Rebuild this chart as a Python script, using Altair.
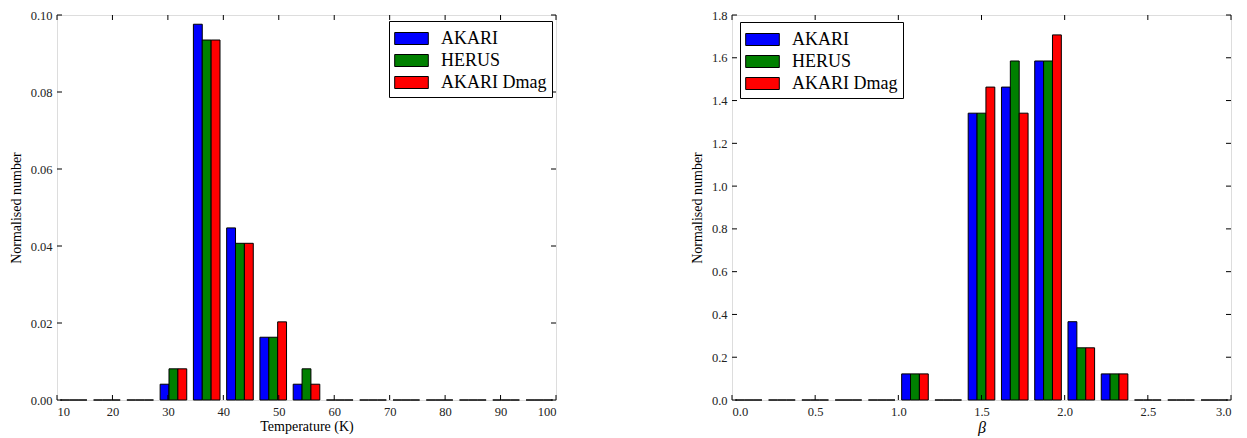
import altair as alt
import pandas as pd

series = ["AKARI", "HERUS", "AKARI Dmag"]
colors = ["#0000ff", "#008000", "#ff0000"]

# Temperature histogram (bin edges in K, normalised heights per bin)
temp_edges = [10, 16, 22, 28, 34, 40, 46, 52, 58, 64, 70, 76, 82, 88, 94, 100]
temp_akari = [0, 0, 0, 0.0041, 0.0976, 0.0447, 0.0163, 0.0041, 0, 0, 0, 0, 0, 0, 0]
temp_herus = [0, 0, 0, 0.0081, 0.0935, 0.0407, 0.0163, 0.0081, 0, 0, 0, 0, 0, 0, 0]
temp_dmag = [0, 0, 0, 0.0081, 0.0935, 0.0407, 0.0203, 0.0041, 0, 0, 0, 0, 0, 0, 0]

# Beta histogram
beta_edges = [0.0, 0.2, 0.4, 0.6, 0.8, 1.0, 1.2, 1.4, 1.6, 1.8, 2.0, 2.2, 2.4, 2.6, 2.8, 3.0]
beta_akari = [0, 0, 0, 0, 0, 0.122, 0, 1.341, 1.463, 1.585, 0.366, 0.122, 0, 0, 0]
beta_herus = [0, 0, 0, 0, 0, 0.122, 0, 1.341, 1.585, 1.585, 0.244, 0.122, 0, 0, 0]
beta_dmag = [0, 0, 0, 0, 0, 0.122, 0, 1.463, 1.341, 1.707, 0.244, 0.122, 0, 0, 0]

temp_xticks = [10, 20, 30, 40, 50, 60, 70, 80, 90, 100]
temp_yticks = [0.0, 0.02, 0.04, 0.06, 0.08, 0.10]
beta_xticks = [0.0, 0.5, 1.0, 1.5, 2.0, 2.5, 3.0]
beta_yticks = [0.0, 0.2, 0.4, 0.6, 0.8, 1.0, 1.2, 1.4, 1.6, 1.8]

FONT = "Liberation Serif"
W, H = 499, 385


def bars_df(edges, groups):
    rows = []
    n = len(groups)
    for s_i, (name, vals) in enumerate(groups):
        for b, v in enumerate(vals):
            lo, hi = edges[b], edges[b + 1]
            w = hi - lo
            x0 = lo + w * (0.1 + s_i * 0.8 / n)
            rows.append({"series": name, "x0": x0, "x1": x0 + w * 0.8 / n, "value": v})
    return pd.DataFrame(rows)


def axis(values, fmt, title, title_style="normal", title_size=14, title_pad=6):
    return alt.Axis(values=values, format=fmt, title=title,
                    domain=False, ticks=False, grid=False,
                    labelFont=FONT, labelFontSize=12.5, labelColor="#222222", labelPadding=5,
                    titleFont=FONT, titleFontSize=title_size, titleFontStyle=title_style,
                    titleFontWeight="normal", titleColor="black", titlePadding=title_pad)


def panel(df, xdom, ydom, xticks, yticks, xfmt, yfmt, xtitle, xtitle_style, xtitle_size, lx, ly):
    xs = alt.Scale(domain=xdom, nice=False, zero=False)
    ys = alt.Scale(domain=ydom, nice=False, zero=False)
    xaxis = axis(xticks, xfmt, xtitle, xtitle_style, xtitle_size, 2)
    yaxis = axis(yticks, yfmt, "Normalised number", "normal", 14, 7)
    bars = alt.Chart(df).mark_bar(stroke="black", strokeWidth=1, opacity=1).encode(
        x=alt.X("x0:Q", scale=xs, axis=xaxis),
        x2="x1:Q",
        y=alt.Y("value:Q", scale=ys, axis=yaxis),
        y2=alt.datum(0),
        color=alt.Color("series:N", scale=alt.Scale(domain=series, range=colors),
                        legend=alt.Legend(orient="none", legendX=lx, legendY=ly, title=None,
                                          fillColor="white", strokeColor="black",
                                          cornerRadius=0, padding=5,
                                          labelFont=FONT, labelFontSize=18, labelColor="black",
                                          labelOffset=17, symbolOffset=5,
                                          symbolType="M-1.4,-0.5H1.4V0.5H-1.4Z", symbolSize=576,
                                          symbolStrokeColor="black", symbolStrokeWidth=1,
                                          symbolOpacity=1, rowPadding=0)),
    )
    xt = pd.DataFrame({"x0": xticks})
    yt = pd.DataFrame({"value": yticks})
    bottom = alt.Chart(xt).mark_rule(color="black", strokeWidth=1).encode(
        x=alt.X("x0:Q", scale=xs, axis=xaxis), y=alt.value(H), y2=alt.value(H - 5))
    top = alt.Chart(xt).mark_rule(color="black", strokeWidth=1).encode(
        x=alt.X("x0:Q", scale=xs, axis=xaxis), y=alt.value(0), y2=alt.value(5))
    left = alt.Chart(yt).mark_rule(color="black", strokeWidth=1).encode(
        y=alt.Y("value:Q", scale=ys, axis=yaxis), x=alt.value(0), x2=alt.value(5))
    right = alt.Chart(yt).mark_rule(color="black", strokeWidth=1).encode(
        y=alt.Y("value:Q", scale=ys, axis=yaxis), x=alt.value(W), x2=alt.value(W - 5))
    return alt.layer(bars, bottom, top, left, right).properties(width=W, height=H)


temp_df = bars_df(temp_edges, [("AKARI", temp_akari), ("HERUS", temp_herus), ("AKARI Dmag", temp_dmag)])
beta_df = bars_df(beta_edges, [("AKARI", beta_akari), ("HERUS", beta_herus), ("AKARI Dmag", beta_dmag)])

p1 = panel(temp_df, [10, 100], [0, 0.10], temp_xticks, temp_yticks, "d", ".2f",
           "Temperature (K)", "normal", 14, 332, 6)
p2 = panel(beta_df, [0, 3], [0, 1.8], beta_xticks, beta_yticks, ".1f", ".1f",
           "β", "italic", 16, 8, 7)

chart = alt.hconcat(
    p1, p2, spacing=132, padding={"left": 0, "top": 0, "right": 0, "bottom": 0}
).resolve_scale(
    x="independent", y="independent", color="independent"
).resolve_legend(
    color="independent"
).configure_view(
    stroke="black", strokeWidth=1
).configure(font=FONT)

chart.save("out.html", embed_options={"renderer": "svg", "actions": False})
